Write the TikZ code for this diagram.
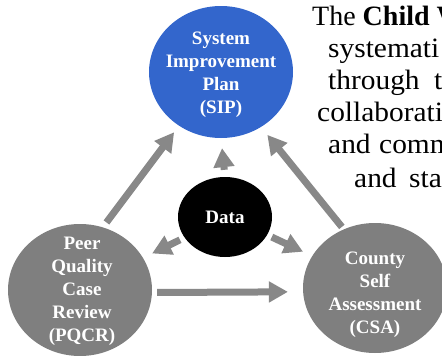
\documentclass[tikz,border=0pt]{standalone}
\usepackage{fontspec}
\setmainfont{Liberation Serif}
\newfontfamily\parafont[FakeStretch=1.05]{Liberation Serif}
\usetikzlibrary{arrows.meta,shapes.geometric}
\definecolor{sipblue}{HTML}{3366CC}
\definecolor{stagegray}{HTML}{7F7F7F}
\definecolor{flowgray}{HTML}{888888}
\begin{document}
\begin{tikzpicture}[x=1pt,y=-1pt,
  stage/.style={ellipse,draw=none,inner sep=0pt,minimum width=144pt,minimum height=132pt},
  hub/.style={ellipse,fill=black,inner sep=0pt,minimum width=94pt,minimum height=80pt},
  lbl/.style={align=center,text=white,inner sep=0pt,font=\bfseries\fontsize{19}{23}\selectfont},
  flow/.style={draw=flowgray,line width=7pt,-{Triangle[width=20pt,length=19pt]}},
  word/.style={anchor=base west,inner sep=0pt,font=\parafont\fontsize{28}{32}\selectfont},
  lead/.style={anchor=base west,inner sep=0pt,font=\fontsize{28}{32}\selectfont}]
\useasboundingbox (0,0) rectangle (442,356);
\clip (0,0) rectangle (442,356);

% justified text running beside the cycle, one node per word
\node[lead] (w1) at (312,25) {The \textbf{Child W}};
\node[word] (w2) at (328,57) {systemati};
\node[word] (w3a) at (328,89) {through};
\node[word] (w3b) at (434,89) {t};
\node[word] (w4) at (317,121) {collaborati};
\node[word] (w5a) at (328,153) {and};
\node[word] (w5b) at (379,153) {comm};
\node[word] (w6a) at (354,187) {and};
\node[word] (w6b) at (409,187) {sta};

% the three stages and the data hub
\node[stage,fill=sipblue] (sip) at (221,72) {};
\node[stage,fill=stagegray] (pqcr) at (80,290) {};
\node[stage,fill=stagegray,minimum height=130pt] (csa) at (375,288) {};
\node[hub] (data) at (225,217) {};

\node[lbl] (sipt) at ([yshift=-3pt]sip.center) {System\\Improvement\\Plan\\(SIP)};
\node[lbl] (pqcrt) at ([xshift=2pt,yshift=-1pt]pqcr.center) {Peer\\Quality\\Case\\Review\\(PQCR)};
\node[lbl] (csat) at ([yshift=-7pt]csa.center) {County\\Self\\Assessment\\(CSA)};
\node[lbl] (datat) at (data.center) {Data};

% cycle arrows
\draw[flow,shorten <=6pt,shorten >=8pt] (pqcr.70) -- (sip.232);
\draw[flow,shorten <=3pt,shorten >=10pt] (csa.118) -- (sip.306);
\draw[flow,shorten <=5pt,shorten >=15pt] (pqcr.-2) -- (csa.183);
% arrows out of the data hub
\draw[flow,shorten <=7pt,shorten >=10pt] (data.90) -- (sip.270);
\draw[flow,shorten <=5pt,shorten >=10pt] (data.207) -- (pqcr.27);
\draw[flow,shorten <=5pt,shorten >=10pt] (data.-23) -- (csa.153);
\end{tikzpicture}
\end{document}
